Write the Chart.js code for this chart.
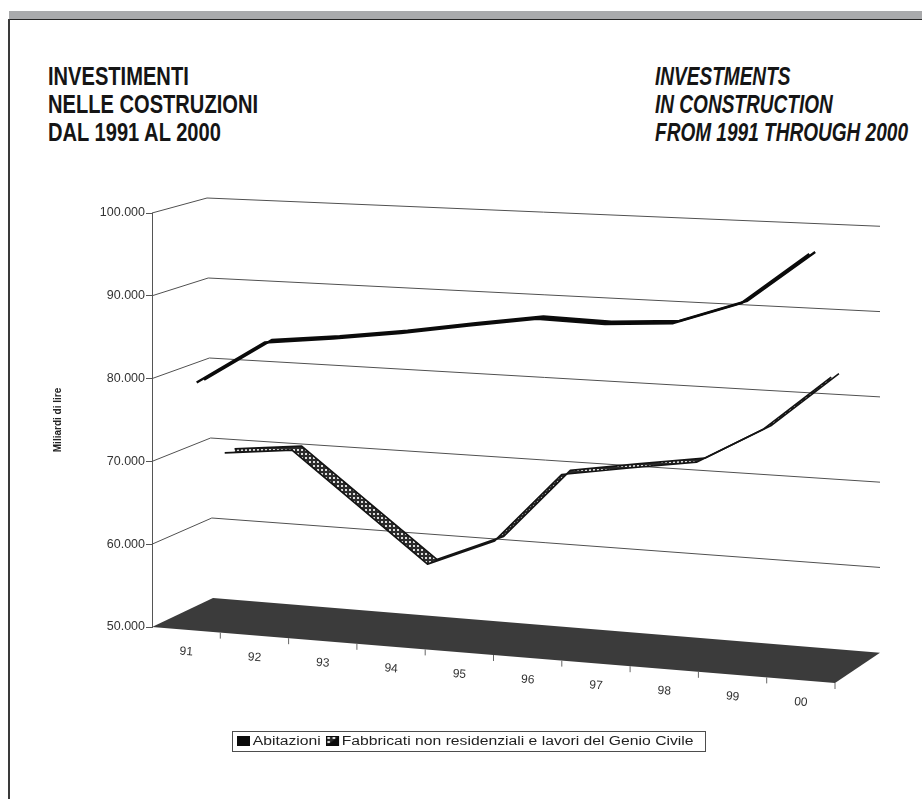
<!DOCTYPE html>
<html lang="it">
<head>
<meta charset="utf-8">
<title>Investimenti nelle costruzioni dal 1991 al 2000</title>
<script src="https://cdn.jsdelivr.net/npm/chart.js@4.4.1/dist/chart.umd.min.js"></script>
<style>
  html, body { margin: 0; padding: 0; background: #fff; }
  #page { position: relative; width: 922px; height: 799px; overflow: hidden; background: #fff; }
  #band { position: absolute; left: 9px; top: 11px; right: 0; height: 8px; background: #a9aaac; }
  #rule { position: absolute; left: 9px; top: 18.5px; right: 0; height: 1.5px; background: #262626; }
  #edge { position: absolute; left: 8px; top: 19px; bottom: 0; width: 2px; background: #3a3a3a; }
  .title { position: absolute; top: 62px; font-family: "Liberation Sans", Arial, sans-serif; font-weight: 700;
           font-size: 26.7px; line-height: 28px; color: #151515; white-space: nowrap; transform-origin: 0 0; }
  .title div span { display: inline-block; }
  #titleIt { left: 48px; }
  #titleEn { left: 655px; font-style: italic; }
  #chart { position: absolute; left: 0; top: 0; }
  #legend { position: absolute; left: 232px; top: 731px; width: 474px; height: 21px; box-sizing: border-box;
            border: 1px solid #4d4d4d; background: #fff; overflow: hidden; }
  #legendRow { position: absolute; left: 4px; top: 3px; white-space: nowrap; transform-origin: 0 50%;
               font-family: "Liberation Sans", Arial, sans-serif; font-size: 12px; line-height: 13px; color: #222; }
  #legendRow canvas { vertical-align: -1px; margin-right: 2px; }
  #legendRow .item { margin-right: 4px; }
</style>
</head>
<body>
<div id="page">
  <div id="band"></div>
  <div id="rule"></div>
  <div id="edge"></div>
  <div class="title" id="titleIt">
    <div><span>INVESTIMENTI</span></div>
    <div><span>NELLE COSTRUZIONI</span></div>
    <div><span>DAL 1991 AL 2000</span></div>
  </div>
  <div class="title" id="titleEn">
    <div><span>INVESTMENTS</span></div>
    <div><span>IN CONSTRUCTION</span></div>
    <div><span>FROM 1991 THROUGH 2000</span></div>
  </div>
  <canvas id="chart" width="922" height="799"></canvas>
  <div id="legend"><div id="legendRow"></div></div>
</div>
<script>
// ---- data (miliardi di lire) ----
const years = ['91', '92', '93', '94', '95', '96', '97', '98', '99', '00'];
const abitazioni = [79300, 84600, 85500, 86600, 87900, 89100, 88900, 89400, 92100, 98100];
const fabbricati = [69400, 70300, 63900, 57600, 61000, 69500, 70800, 72000, 76400, 82900];
const valueTicks = [50000, 60000, 70000, 80000, 90000, 100000];
const seriesNames = ['Abitazioni', 'Fabbricati non residenziali e lavori del Genio Civile'];
const axisTitle = 'Miliardi di lire';

// ---- 3-D box geometry (pixels) ----
const BOX = {
  frontWidth: 683,      // length of the front floor edge
  depthDxBottom: 61,    // horizontal shift of the back wall, at the floor
  depthDxTop: 55,       // ... at the top of the value range
  riseBottom: 29,       // vertical shift of the back wall, at the floor
  riseTop: 15,
  slopeBottom: 0.082,   // downward fall of horizontal lines per pixel, at the floor
  slopeTop: 0.042
};
// depth of each ribbon: [front edge, back edge], 0 = front plane, 1 = back wall
const RIBBON = { abitazioni: [0.185, 0.315], fabbricati: [0.665, 0.835] };

const FONT = '"Liberation Sans", Arial, sans-serif';
const fmt = v => String(v).replace(/\B(?=(\d{3})+(?!\d))/g, '.');

// maps (u along categories 0..1, value, depth 0..1) to canvas pixels
function project(chart, u, v, d) {
  const ys = chart.scales.y, area = chart.chartArea;
  const t = (v - ys.min) / (ys.max - ys.min);
  const yA = ys.getPixelForValue(v);
  const slope = BOX.slopeBottom + (BOX.slopeTop - BOX.slopeBottom) * t;
  const dx = BOX.depthDxBottom + (BOX.depthDxTop - BOX.depthDxBottom) * t;
  const rise = BOX.riseBottom + (BOX.riseTop - BOX.riseBottom) * t;
  const xF = area.left + BOX.frontWidth * u;
  const yF = yA + slope * (xF - area.left);
  const bl = area.left + dx;
  const xB = bl + (area.right - bl) * u;
  const yB = yA - rise + slope * (xB - bl);
  return { x: xF + (xB - xF) * d, y: yF + (yB - yF) * d };
}
function categoryU(chart, i) {
  const xs = chart.scales.x;
  return (xs.getPixelForValue(i) - xs.left) / (xs.right - xs.left);
}

function dotPattern() {
  const c = document.createElement('canvas');
  c.width = 4; c.height = 4;
  const g = c.getContext('2d');
  g.fillStyle = '#2c2c2c'; g.fillRect(0, 0, 4, 4);
  g.fillStyle = '#dcdcdc'; g.fillRect(1, 1, 2, 2);
  return g.createPattern(c, 'repeat');
}

const box3d = {
  id: 'box3d',
  afterDatasetsUpdate(chart) {
    chart.data.datasets.forEach((ds, k) => {
      chart.getDatasetMeta(k).data.forEach((pt, i) => {
        const p = project(chart, categoryU(chart, i), ds.data[i], ds.depth);
        pt.x = p.x; pt.y = p.y;
      });
    });
  },
  beforeDatasetsDraw(chart) {
    const { ctx } = chart;
    const ys = chart.scales.y;
    const base = ys.min;
    ctx.save();
    // floor
    const f = [project(chart, 0, base, 0), project(chart, 0, base, 1), project(chart, 1, base, 1), project(chart, 1, base, 0)];
    ctx.beginPath();
    f.forEach((p, k) => k ? ctx.lineTo(p.x, p.y) : ctx.moveTo(p.x, p.y));
    ctx.closePath();
    ctx.fillStyle = '#3b3b3b';
    ctx.fill();
    // value lines on side wall and back wall
    ctx.strokeStyle = '#505050';
    ctx.lineWidth = 1;
    ys.ticks.forEach(tk => {
      if (tk.value <= base) return;
      const a = project(chart, 0, tk.value, 0), b = project(chart, 0, tk.value, 1), e = project(chart, 1, tk.value, 1);
      ctx.beginPath(); ctx.moveTo(a.x, a.y); ctx.lineTo(b.x, b.y); ctx.lineTo(e.x, e.y); ctx.stroke();
    });
    // category ticks on the front floor edge
    const n = chart.data.labels.length;
    ctx.strokeStyle = '#666';
    for (let k = 1; k <= n; k++) {
      const p = project(chart, k / n, base, 0);
      ctx.beginPath(); ctx.moveTo(p.x, p.y); ctx.lineTo(p.x, p.y + 6); ctx.stroke();
    }
    // category labels, following the slant of the floor
    ctx.fillStyle = '#333';
    ctx.font = '12px ' + FONT;
    ctx.textAlign = 'center';
    ctx.textBaseline = 'middle';
    const ang = Math.atan(BOX.slopeBottom);
    chart.data.labels.forEach((lab, i) => {
      const p = project(chart, categoryU(chart, i), base, 0);
      ctx.save(); ctx.translate(p.x, p.y + 22); ctx.rotate(ang); ctx.fillText(lab, 0, 0); ctx.restore();
    });
    ctx.restore();
  }
};

const dots = dotPattern();
const chart = new Chart(document.getElementById('chart'), {
  type: 'line',
  data: {
    labels: years,
    datasets: [
      { label: seriesNames[0], data: abitazioni, depth: RIBBON.abitazioni[0], borderColor: '#0b0b0b', borderWidth: 2.4, fill: false },
      { label: seriesNames[0], data: abitazioni, depth: RIBBON.abitazioni[1], borderColor: '#0b0b0b', borderWidth: 2.4, fill: '-1', backgroundColor: '#0b0b0b' },
      { label: seriesNames[1], data: fabbricati, depth: RIBBON.fabbricati[0], borderColor: '#141414', borderWidth: 1.7, fill: false },
      { label: seriesNames[1], data: fabbricati, depth: RIBBON.fabbricati[1], borderColor: '#141414', borderWidth: 1.7, fill: '-1', backgroundColor: dots }
    ]
  },
  options: {
    responsive: false,
    animation: false,
    events: [],
    layout: { padding: { left: 52, top: 213, right: 42, bottom: 172 } },
    elements: {
      point: { radius: 0 },
      line: { tension: 0, borderJoinStyle: 'round', borderCapStyle: 'butt' }
    },
    plugins: { legend: { display: false }, tooltip: { enabled: false } },
    scales: {
      x: { type: 'category', offset: true, display: false },
      y: {
        type: 'linear', position: 'left', min: valueTicks[0], max: valueTicks[valueTicks.length - 1],
        afterBuildTicks: s => { s.ticks = valueTicks.map(v => ({ value: v })); },
        afterFit: s => { s.width = 100; },
        grid: { drawOnChartArea: false, drawTicks: true, tickLength: 6, color: '#555', lineWidth: 1 },
        border: { display: true, color: '#555', width: 1 },
        ticks: { padding: 1, color: '#333', font: { family: FONT, size: 12.5 }, callback: v => fmt(v) },
        title: { display: true, text: axisTitle, color: '#222', padding: 0, font: { family: FONT, size: 10, weight: 'bold' } }
      }
    }
  },
  plugins: [box3d]
});

// ---- legend ----
const row = document.getElementById('legendRow');
seriesNames.forEach((name, k) => {
  const item = document.createElement('span');
  item.className = 'item';
  const sw = document.createElement('canvas');
  sw.width = 10; sw.height = 10;
  const g = sw.getContext('2d');
  if (k === 0) {
    g.fillStyle = '#0b0b0b'; g.fillRect(0, 0, 10, 10);
  } else {
    g.fillStyle = dots; g.fillRect(0, 0, 10, 10);
    g.fillStyle = '#0b0b0b';
    g.beginPath(); g.moveTo(10, 0); g.lineTo(10, 10); g.lineTo(0, 10); g.closePath(); g.fill();
    g.strokeStyle = '#0b0b0b'; g.lineWidth = 1; g.strokeRect(0.5, 0.5, 9, 9);
  }
  item.appendChild(sw);
  item.appendChild(document.createTextNode(name));
  row.appendChild(item);
});
row.style.transform = 'scaleX(' + (462 / row.scrollWidth) + ')';

// ---- condensed titles: fit each block to its widest line ----
function fitTitle(id, width) {
  const el = document.getElementById(id);
  const w = Math.max(...[...el.querySelectorAll('span')].map(s => s.getBoundingClientRect().width));
  el.style.transform = 'scaleX(' + (width / w) + ')';
}
fitTitle('titleIt', 210);
fitTitle('titleEn', 253);
</script>
</body>
</html>
